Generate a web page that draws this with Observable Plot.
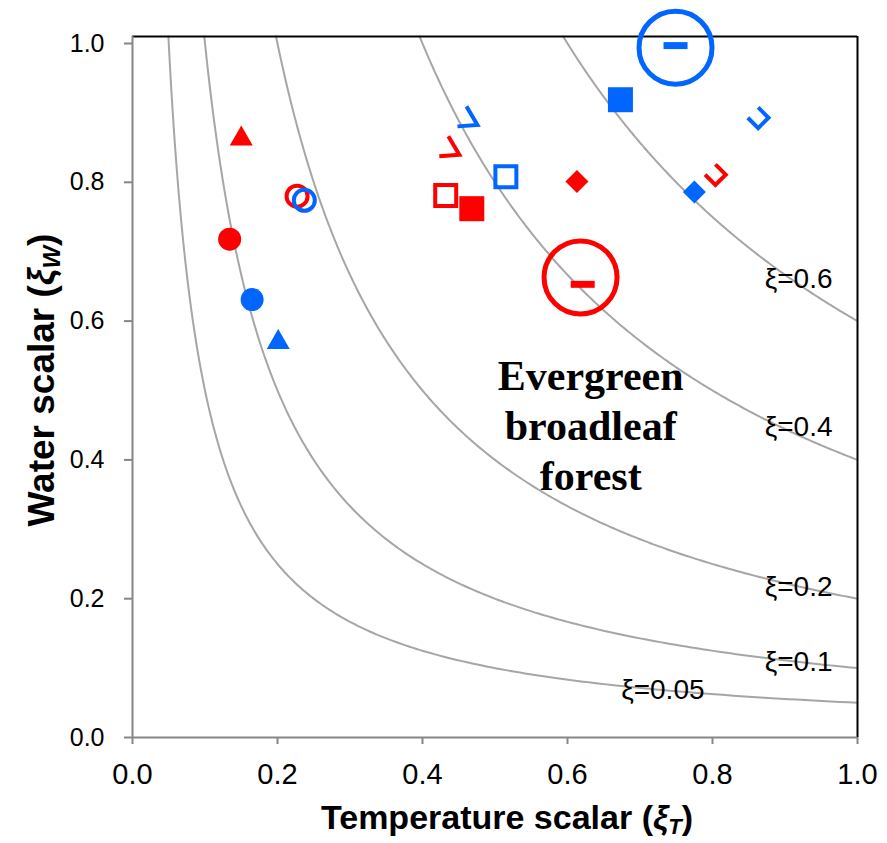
<!DOCTYPE html>
<html><head><meta charset="utf-8">
<script src="https://cdn.jsdelivr.net/npm/d3@7"></script>
<script src="https://cdn.jsdelivr.net/npm/@observablehq/plot@0.6"></script>
<style>
body{margin:0;background:#fff;}
#chart svg{overflow:visible;}
</style></head><body><div id="chart"></div>
<script>
// ---- data ----
const tickValues = [0, 0.2, 0.4, 0.6, 0.8, 1.0];
const xiLevels = [0.05, 0.1, 0.2, 0.4, 0.6];
const xiLabels = ["ξ=0.05", "ξ=0.1", "ξ=0.2", "ξ=0.4", "ξ=0.6"];
const xiLabelT = [0.674, 0.872, 0.872, 0.872, 0.872];
const xiLabelW = [0.068, 0.1085, 0.217, 0.447, 0.660];

const ptT    = [0.150, 0.134, 0.165, 0.201, 0.227, 0.237, 0.462, 0.437, 0.432, 0.468, 0.515, 0.613, 0.673, 0.775, 0.804, 0.863, 0.749, 0.621];
const ptW    = [0.864, 0.718, 0.631, 0.571, 0.780, 0.774, 0.895, 0.852, 0.781, 0.762, 0.808, 0.801, 0.919, 0.786, 0.811, 0.893, 0.997, 0.653];
const ptSite = ["A","A","B","B","A","B","B","A","A","A","B","A","B","B","A","B","B","A"];
const ptKind = ["triangle","circle","circle","triangle","circleOpen","circleOpen","vee","vee","squareOpen","square","squareOpen","diamond","square","diamond","cup","cup","dash","dash"];

const ringT = [0.749, 0.618];
const ringW = [0.994, 0.663];
const ringSite = ["B", "A"];

const biomeText = ["Evergreen\nbroadleaf\nforest"];
const biomeT = [0.632];
const biomeW = [0.452];

const siteNames = ["A", "B"];
const siteColors = ["#FF0000", "#0066FF"];
const yTop = 1.0101;

// ---- build tables ----
const points = ptT.map((t, i) => ({t, w: ptW[i], site: ptSite[i], kind: ptKind[i]}));
const rings = ringT.map((t, i) => ({t, w: ringW[i], site: ringSite[i]}));
const xiLab = xiLabels.map((s, i) => ({s, t: xiLabelT[i], w: xiLabelW[i]}));
const biome = biomeText.map((s, i) => ({s, t: biomeT[i], w: biomeW[i]}));

// isolines of xi = xiT * xiW
const curves = [];
xiLevels.forEach(level => {
  const x0 = level / yTop, n = 240;
  for (let i = 0; i <= n; i++) {
    const t = x0 * Math.pow(1 / x0, i / n);
    curves.push({level, t, w: level / t});
  }
});

// ---- custom symbols (r = radius-equivalent in px) ----
const R = size => Math.sqrt(size / Math.PI);
const symTriangle = {draw(c, s){const r=R(s); c.moveTo(0,-1.07*r); c.lineTo(r,0.67*r); c.lineTo(-r,0.67*r); c.closePath();}};
const symSquare = {draw(c, s){const r=R(s); c.rect(-r,-r,2*r,2*r);}};
const symDiamond = {draw(c, s){const r=R(s); c.moveTo(0,-r); c.lineTo(r,0); c.lineTo(0,r); c.lineTo(-r,0); c.closePath();}};
const symVee = {draw(c, s){const r=R(s); c.moveTo(-0.1*r,-r); c.lineTo(r,0.85*r); c.lineTo(-r,r);}};
const symCup = {draw(c, s){const r=R(s); const a=-Math.PI/4, co=Math.cos(a), si=Math.sin(a);
  const pts=[[-r,-r],[-r,r],[r,r],[r,-r]].map(([x,y])=>[x*co-y*si, x*si+y*co]);
  c.moveTo(...pts[0]); for (let k=1;k<pts.length;k++) c.lineTo(...pts[k]);}};
const symDash = {draw(c, s){const r=R(s); c.rect(-r,-0.29*r,2*r,0.58*r);}};

const kindSpec = {
  triangle:   {symbol: symTriangle, r: 11.5, filled: true},
  circle:     {symbol: "circle", r: 11.5, filled: true},
  circleOpen: {symbol: "circle", r: 10.5, filled: false},
  vee:        {symbol: symVee, r: 10, filled: false},
  squareOpen: {symbol: symSquare, r: 10.5, filled: false},
  square:     {symbol: symSquare, r: 12.5, filled: true},
  diamond:    {symbol: symDiamond, r: 11.5, filled: true},
  cup:        {symbol: symCup, r: 7.3, filled: false},
  dash:       {symbol: symDash, r: 12, filled: true}
};

const dotMarks = Object.entries(kindSpec).map(([k, sp]) =>
  Plot.dot(points, {
    filter: d => d.kind === k, x: "t", y: "w", symbol: sp.symbol, r: sp.r,
    fill: sp.filled ? "site" : "none",
    stroke: sp.filled ? null : "site",
    strokeWidth: sp.filled ? 0 : 4
  })
);

const chart = Plot.plot({
  width: 887, height: 843,
  marginLeft: 132, marginRight: 30, marginTop: 36, marginBottom: 106,
  style: {fontFamily: "'Liberation Sans', Arial, sans-serif", background: "white", color: "black"},
  x: {domain: [0, 1], label: null},
  y: {domain: [0, yTop], label: null},
  color: {domain: siteNames, range: siteColors},
  marks: [
    Plot.line(curves, {x: "t", y: "w", z: "level", stroke: "#A6A6A6", strokeWidth: 2}),
    Plot.ruleY([yTop], {stroke: "#000", strokeWidth: 2}),
    Plot.ruleX([1], {stroke: "#000", strokeWidth: 2}),
    Plot.ruleX([0], {stroke: "#868686", strokeWidth: 2}),
    Plot.ruleY([0], {stroke: "#868686", strokeWidth: 2}),
    Plot.axisX({ticks: tickValues, tickFormat: d3.format(".1f"), tickSize: 7, tickPadding: 19, stroke: "#868686", strokeWidth: 2, fontSize: 29, label: null}),
    Plot.axisY({ticks: tickValues, tickFormat: d3.format(".1f"), tickSize: 8, tickPadding: 20, stroke: "#868686", strokeWidth: 2, fontSize: 25, label: null}),
    Plot.text(xiLab, {x: "t", y: "w", text: "s", textAnchor: "start", fontSize: 28, fill: "black", ariaLabel: "xi-label"}),
    Plot.text(biome, {x: "t", y: "w", text: "s", fontSize: 42, fontWeight: "bold", fontFamily: "'Liberation Serif', 'Times New Roman', serif", lineHeight: 1.19, fill: "black"}),
    Plot.dot(rings, {x: "t", y: "w", r: 36.5, stroke: "site", strokeWidth: 5, fill: "none"}),
    ...dotMarks
  ]
});
document.getElementById("chart").append(chart);

// white boxes behind isoline labels
const svg = d3.select(chart);
svg.selectAll("g[aria-label='xi-label'] text").each(function() {
  const bb = this.getBBox();
  const tr = this.getAttribute("transform");
  const rect = d3.select(this.parentNode).insert("rect", () => this)
    .attr("x", bb.x - 1).attr("y", bb.y).attr("width", bb.width + 14).attr("height", bb.height)
    .attr("fill", "white");
  if (tr) rect.attr("transform", tr);
});

// axis titles with italic xi and subscripts
const xt = svg.append("text")
  .attr("transform", "translate(507,829)")
  .attr("text-anchor", "middle")
  .style("font", "bold 34px 'Liberation Sans', Arial, sans-serif")
  .attr("fill", "black");
xt.append("tspan").text("Temperature scalar (");
xt.append("tspan").attr("font-style", "italic").text("ξ");
xt.append("tspan").attr("font-style", "italic").attr("font-size", "22px").attr("dy", "5").text("T");
xt.append("tspan").attr("dy", "-5").text(")");

const yt = svg.append("text")
  .attr("transform", "translate(54,380) rotate(-90)")
  .attr("text-anchor", "middle")
  .style("font", "bold 37px 'Liberation Sans', Arial, sans-serif")
  .attr("fill", "black");
yt.append("tspan").text("Water scalar (");
yt.append("tspan").attr("font-style", "italic").text("ξ");
yt.append("tspan").attr("font-style", "italic").attr("font-size", "24px").attr("dy", "6").text("W");
yt.append("tspan").attr("dy", "-6").text(")");
</script></body></html>
